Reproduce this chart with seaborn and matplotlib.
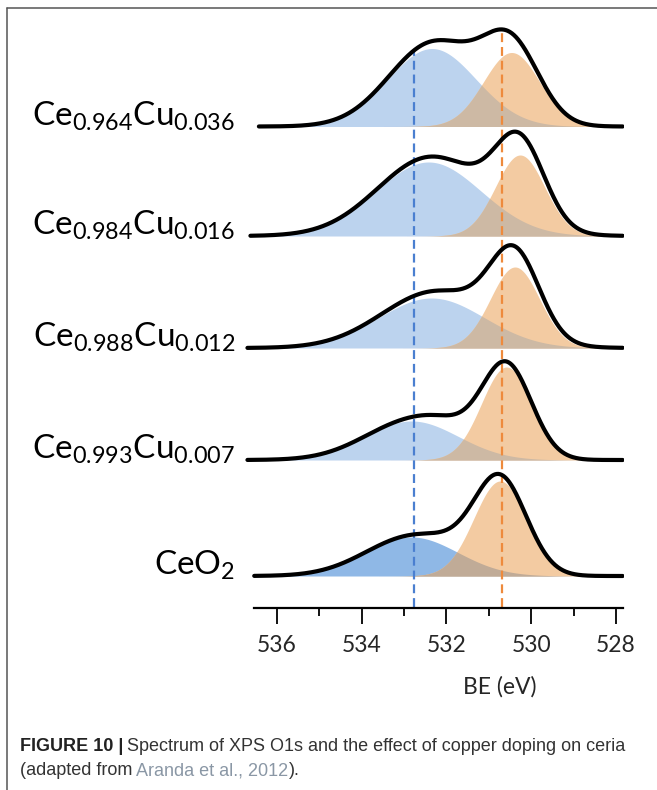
import numpy as np
import matplotlib
matplotlib.use("Agg")
import matplotlib.pyplot as plt
from matplotlib.lines import Line2D
import seaborn as sns

# spectra, top to bottom
labels = [r"Ce$_{\mathregular{0.964}}$Cu$_{\mathregular{0.036}}$",
          r"Ce$_{\mathregular{0.984}}$Cu$_{\mathregular{0.016}}$",
          r"Ce$_{\mathregular{0.988}}$Cu$_{\mathregular{0.012}}$",
          r"Ce$_{\mathregular{0.993}}$Cu$_{\mathregular{0.007}}$",
          r"CeO$_{\mathregular{2}}$"]

# fitted O1s components (BE in eV, height in a.u., sigma in eV)
blue_center = [532.34, 532.42, 532.35, 532.82, 532.82]
blue_height = [78, 74, 50, 39, 39]
blue_sigma = [1.04, 1.24, 1.25, 1.10, 1.09]
orange_center = [530.46, 530.26, 530.38, 530.58, 530.73]
orange_height = [74, 81, 81, 93, 95]
orange_sigma = [0.66, 0.58, 0.58, 0.59, 0.62]
# extra intensity of the measured envelope above the two components
extra_center = [531.6, 531.3, 531.4, 532.0, 532.0]
extra_height = [8, 8, 9, 10, 5]
extra_sigma = [1.0, 1.2, 1.2, 0.6, 0.6]

scan_start = [536.42, 536.62, 536.69, 536.69, 536.53]
scan_end = 527.84
ref_lines = [532.77, 530.69]

major_ticks = [536, 534, 532, 530, 528]
minor_ticks = [535, 533, 531, 529]

# stacking offsets and colours
offsets = [481.8, 372.3, 260.3, 148.3, 32.3]
blue_c = ["#bcd3ee"] * 4 + ["#8fb8e6"]
overlap_c = ["#cdb9a4"] * 4 + ["#c0ab97"]
orange_c = "#f3cba2"


def gauss(x, c, h, s):
    return h * np.exp(-0.5 * ((x - c) / s) ** 2)


sns.set_theme(style="white")
plt.rcParams["font.family"] = ["Lato", "DejaVu Sans"]
plt.rcParams["mathtext.fontset"] = "custom"
plt.rcParams["mathtext.rm"] = "Lato"
plt.rcParams["mathtext.it"] = "Lato:italic"
plt.rcParams["mathtext.bf"] = "Lato:bold"

W, H = 657, 790
fig = plt.figure(figsize=(W / 100, H / 100), dpi=100)
px = 42.4  # pixels per eV
x_left, x_right = 536.75, 527.8
ax_l = 276.7 - (x_left - 536) * px
ax_w = (x_left - x_right) * px
ax_bot, ax_top = 608.3, 20
ax = fig.add_axes([ax_l / W, 1 - ax_bot / H, ax_w / W, (ax_bot - ax_top) / H])
ax.set_xlim(x_left, x_right)
ax.set_ylim(0, ax_bot - ax_top)

top_env = None
top_x = None
for i in range(len(labels)):
    x = np.linspace(scan_start[i], scan_end, 700)
    b = gauss(x, blue_center[i], blue_height[i], blue_sigma[i])
    o = gauss(x, orange_center[i], orange_height[i], orange_sigma[i])
    e = gauss(x, extra_center[i], extra_height[i], extra_sigma[i])
    env = b + o + e
    base = offsets[i]
    ax.fill_between(x, base, base + b, color=blue_c[i], lw=0, zorder=1)
    ax.fill_between(x, base, base + o, color=orange_c, lw=0, zorder=1)
    ax.fill_between(x, base, base + np.minimum(b, o), color=overlap_c[i], lw=0, zorder=1)
    sns.lineplot(x=x, y=base + env, ax=ax, color="black", lw=3.0, sort=False,
                 estimator=None, zorder=3)
    if i == 0:
        top_env, top_x = base + env, x
    fig.text(235 / W, 1 - (ax_bot - base - 1) / H, labels[i], ha="right",
             va="baseline", fontsize=24, color="black")

# reference lines up to the top spectrum
for be, col in zip(ref_lines, ["#4a7fd0", "#ee8a3c"]):
    ytop = np.interp(be, top_x[::-1], top_env[::-1])
    ax.plot([be, be], [1, ytop], color=col, lw=1.6, ls=(0, (4, 2.2)), zorder=2)

for s in ["left", "right", "top"]:
    ax.spines[s].set_visible(False)
ax.spines["bottom"].set_linewidth(1.6)
ax.spines["bottom"].set_color("black")
ax.spines["bottom"].set_bounds(536.535, 527.84)
ax.set_yticks([])
ax.set_xticks(major_ticks)
ax.set_xticks(minor_ticks, minor=True)
ax.set_xticklabels([str(t) for t in major_ticks], fontsize=16.5)
ax.tick_params(axis="x", which="major", direction="out", length=11.5, width=1.3,
               color="black", pad=8, bottom=True)
ax.tick_params(axis="x", which="minor", direction="out", length=5.8, width=1.3,
               color="black", bottom=True)
ax.grid(False)

fig.text(500 / W, 1 - 687 / H, "BE (eV)", ha="center", va="center", fontsize=16.5)

# panel frame
fig.add_artist(Line2D([7 / W, 1], [1 - 8 / H, 1 - 8 / H], color="#555555", lw=1.1))
fig.add_artist(Line2D([7 / W, 7 / W], [0, 1 - 8 / H], color="#555555", lw=1.1))

# caption
cap_font = ["Liberation Sans Narrow", "Liberation Sans", "DejaVu Sans"]
r = fig.canvas.get_renderer()


def put(x, y, s, **kw):
    t = fig.text(x / W, 1 - y / H, s, ha="left", va="baseline", fontsize=13,
                 family=cap_font, **kw)
    return x + t.get_window_extent(r).width


x1 = put(20, 751, "FIGURE 10 |", weight="bold", color="#222222")
put(x1 + 4, 751, "Spectrum of XPS O1s and the effect of copper doping on ceria",
    color="#333333")
x2 = put(20, 775, "(adapted from", color="#333333")
x3 = put(x2 + 4, 775, "Aranda et al., 2012", color="#8a97a5")
put(x3, 775, ").", color="#333333")

fig.savefig("out.png", dpi=100)
